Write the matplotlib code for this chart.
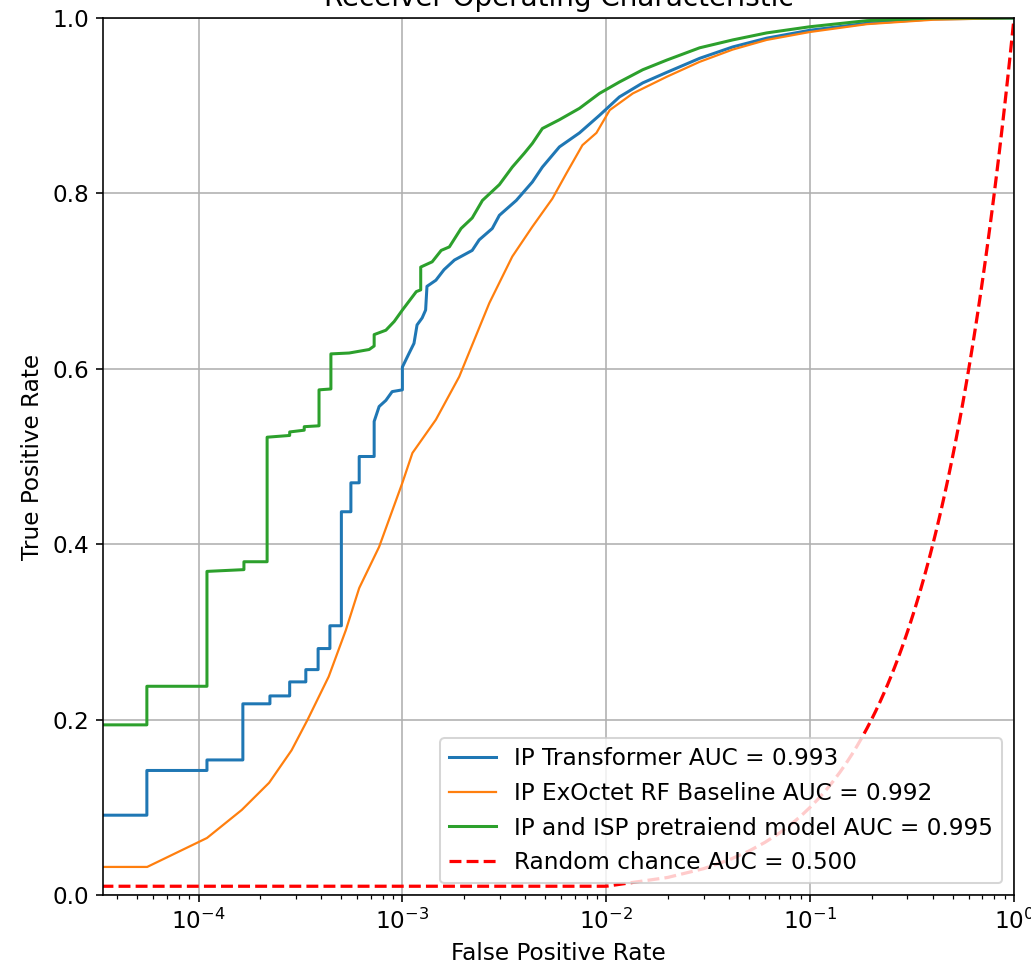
import matplotlib
matplotlib.use("Agg")
import matplotlib.pyplot as plt
import numpy as np

# ROC points (fpr, tpr), corners of the staircases included
tr_fpr = [0, 0, 5.58e-5, 5.58e-5, 1.10e-4, 1.10e-4, 1.65e-4, 1.65e-4, 2.24e-4, 2.24e-4,
          2.80e-4, 2.80e-4, 3.36e-4, 3.36e-4, 3.86e-4, 3.86e-4, 4.41e-4, 4.41e-4,
          5.02e-4, 5.02e-4, 5.59e-4, 5.59e-4, 6.14e-4, 6.14e-4, 7.27e-4, 7.27e-4,
          7.69e-4, 8.30e-4, 8.91e-4, 1.0e-3, 1.0e-3, 1.08e-3, 1.14e-3, 1.18e-3,
          1.25e-3, 1.30e-3, 1.32e-3, 1.46e-3, 1.60e-3, 1.80e-3, 2.20e-3, 2.38e-3,
          2.76e-3, 2.99e-3, 3.62e-3, 4.34e-3, 4.86e-3, 5.89e-3, 7.39e-3, 9.26e-3,
          1.16e-2, 1.51e-2, 1.98e-2, 2.87e-2, 4.17e-2, 6.12e-2, 9.95e-2, 0.19,
          0.40, 1.0]
tr_tpr = [0, 0.091, 0.091, 0.142, 0.142, 0.154, 0.154, 0.218, 0.218, 0.227,
          0.227, 0.243, 0.243, 0.257, 0.257, 0.281, 0.281, 0.307,
          0.307, 0.437, 0.437, 0.470, 0.470, 0.500, 0.500, 0.540,
          0.557, 0.564, 0.574, 0.576, 0.602, 0.618, 0.629, 0.650,
          0.658, 0.667, 0.694, 0.701, 0.713, 0.724, 0.735, 0.747,
          0.760, 0.775, 0.792, 0.813, 0.830, 0.853, 0.869, 0.889,
          0.910, 0.926, 0.938, 0.954, 0.967, 0.977, 0.986, 0.994,
          0.999, 1.0]

rf_fpr = [0, 0, 5.6e-5, 1.10e-4, 1.63e-4, 2.22e-4, 2.86e-4, 3.43e-4, 4.35e-4,
          5.28e-4, 6.14e-4, 7.69e-4, 1.0e-3, 1.12e-3, 1.46e-3, 1.90e-3, 2.67e-3,
          3.46e-3, 4.34e-3, 5.44e-3, 6.38e-3, 7.64e-3, 8.95e-3, 1.04e-2, 1.35e-2,
          1.98e-2, 2.87e-2, 4.17e-2, 6.12e-2, 9.95e-2, 0.19, 0.40, 1.0]
rf_tpr = [0, 0.032, 0.032, 0.065, 0.097, 0.128, 0.165, 0.200, 0.249,
          0.302, 0.350, 0.397, 0.470, 0.504, 0.542, 0.591, 0.675,
          0.728, 0.762, 0.794, 0.823, 0.855, 0.869, 0.895, 0.914,
          0.933, 0.950, 0.964, 0.975, 0.984, 0.993, 0.998, 1.0]

pt_fpr = [0, 0, 5.58e-5, 5.58e-5, 1.10e-4, 1.10e-4, 1.67e-4, 1.67e-4, 2.17e-4,
          2.17e-4, 2.80e-4, 2.80e-4, 3.30e-4, 3.30e-4, 3.90e-4, 3.90e-4, 4.46e-4,
          4.46e-4, 5.48e-4, 6.87e-4, 7.27e-4, 7.27e-4, 8.30e-4, 9.12e-4, 1.0e-3,
          1.17e-3, 1.23e-3, 1.23e-3, 1.40e-3, 1.55e-3, 1.70e-3, 1.94e-3, 2.20e-3,
          2.47e-3, 2.99e-3, 3.46e-3, 3.97e-3, 4.34e-3, 4.86e-3, 5.89e-3, 7.39e-3,
          9.26e-3, 1.16e-2, 1.51e-2, 1.98e-2, 2.87e-2, 4.17e-2, 6.12e-2, 9.95e-2,
          0.19, 0.40, 1.0]
pt_tpr = [0, 0.194, 0.194, 0.238, 0.238, 0.369, 0.371, 0.380, 0.380,
          0.522, 0.524, 0.528, 0.530, 0.534, 0.535, 0.576, 0.577,
          0.617, 0.618, 0.622, 0.626, 0.639, 0.644, 0.654, 0.667,
          0.688, 0.690, 0.716, 0.722, 0.735, 0.739, 0.760, 0.772,
          0.792, 0.810, 0.830, 0.846, 0.857, 0.874, 0.884, 0.897,
          0.914, 0.927, 0.941, 0.952, 0.966, 0.975, 0.983, 0.990,
          0.997, 1.0, 1.0]

labels = ["IP Transformer AUC = 0.993",
          "IP ExOctet RF Baseline AUC = 0.992",
          "IP and ISP pretraiend model AUC = 0.995",
          "Random chance AUC = 0.500"]

# diagonal y = x, sampled every 0.01 like the original reference line
chance = np.linspace(0, 1, 101)

plt.rcParams["font.size"] = 11.5

fig = plt.figure(figsize=(1031 / 145, 977 / 145), dpi=145)
ax = fig.add_axes([103 / 1031, 82 / 977, 911 / 1031, 877 / 977])

ax.plot(tr_fpr, tr_tpr, color="tab:blue", lw=1.5, label=labels[0])
ax.plot(rf_fpr, rf_tpr, color="tab:orange", lw=1.1, label=labels[1])
ax.plot(pt_fpr, pt_tpr, color="tab:green", lw=1.5, label=labels[2])
ax.plot(chance, chance, "r--", lw=1.6, label=labels[3])

ax.set_xscale("log")
ax.set_xlim(3.4e-5, 1)
ax.set_ylim(0, 1)
ax.set_title("Receiver Operating Characteristic")
ax.set_xlabel("False Positive Rate")
ax.set_ylabel("True Positive Rate")
ax.grid(True)
ax.legend(loc="lower right")

fig.savefig("out.png", dpi=145)
